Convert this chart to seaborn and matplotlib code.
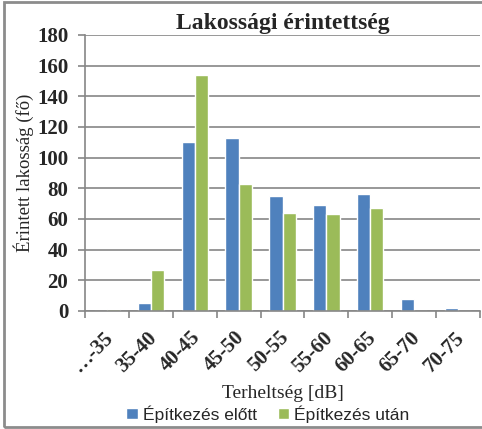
import numpy as np
import pandas as pd
import matplotlib
matplotlib.use("Agg")
import matplotlib.pyplot as plt
import matplotlib.transforms as mtrans
import seaborn as sns
from matplotlib.patches import Rectangle

categories = ["…-35", "35-40", "40-45", "45-50", "50-55", "55-60", "60-65", "65-70", "70-75"]
before = [0, 5, 110, 113, 75, 69, 76, 8, 2]
after = [1, 27, 154, 83, 64, 63, 67, 0, 0]
series_names = ["Építkezés előtt", "Építkezés után"]
colors = ["#4F81BD", "#9BBB59"]

df = pd.DataFrame({
    "cat": categories * 2,
    "val": before + after,
    "series": [series_names[0]] * len(categories) + [series_names[1]] * len(categories),
})

sns.set_theme(style="white")
serif = ["Liberation Serif", "DejaVu Serif"]
sans = ["Liberation Sans", "DejaVu Sans"]

fig = plt.figure(figsize=(4.82, 4.29), dpi=100)
ax = fig.add_axes([85/482, 1-311/429, (480-85)/482, (311-35)/429])

sns.barplot(data=df, x="cat", y="val", hue="series", order=categories,
            hue_order=series_names, palette=colors, width=0.6, saturation=1,
            ax=ax, legend=True)

grid_c = "#868686"
ax.set_ylim(0, 180)
ax.set_yticks(range(0, 181, 20))
ax.set_xlim(-0.5, len(categories) - 0.5)
ax.yaxis.grid(True, color=grid_c, linewidth=1.2)
ax.set_axisbelow(True)
for s in ["top", "right"]:
    ax.spines[s].set_visible(False)
for s in ["left", "bottom"]:
    ax.spines[s].set_color(grid_c)
    ax.spines[s].set_linewidth(1.2)

# y ticks
ax.tick_params(axis="y", which="major", length=5, color=grid_c, width=1.2, pad=7, left=True)
for lab in ax.get_yticklabels():
    lab.set_family(serif)
    lab.set_fontweight("bold")
    lab.set_fontsize(15)

# x ticks at category boundaries (minor), labels at centers
ax.set_xticks(np.arange(len(categories)))
ax.set_xticklabels(categories, rotation=45, ha="right", va="top", rotation_mode="anchor",
                   family=serif, fontweight="bold", fontsize=15)
ax.tick_params(axis="x", which="major", length=0, pad=12)
ax.set_xticks(np.arange(-0.5, len(categories)), minor=True)
ax.tick_params(axis="x", which="minor", length=5, color=grid_c, width=1.2, bottom=True)
shift = mtrans.ScaledTranslation(-4/100, 0, fig.dpi_scale_trans)
for lab in ax.get_xticklabels():
    lab.set_transform(lab.get_transform() + shift)

ax.set_xlabel("Terheltség [dB]", family=serif, fontsize=14, labelpad=6)
ax.set_ylabel("Érintett lakosság (fő)", family=serif, fontsize=13.5, labelpad=2)
ax.set_title("Lakossági érintettség", family=serif, fontsize=17, fontweight="bold", pad=4)

leg = ax.legend(loc="center", bbox_to_anchor=(268/482, 1-414/429), bbox_transform=fig.transFigure,
                ncol=2, frameon=False, prop={"family": sans, "size": 12.5},
                handlelength=0.65, handleheight=0.65, handletextpad=0.3, columnspacing=1.2,
                borderpad=0, borderaxespad=0)

fig.patches.append(Rectangle((4/482, 2/429), 1.0, 1 - 4/429, transform=fig.transFigure,
                             fill=False, edgecolor="#8c8c8c", linewidth=2, figure=fig))

fig.savefig("out.png", dpi=100)
